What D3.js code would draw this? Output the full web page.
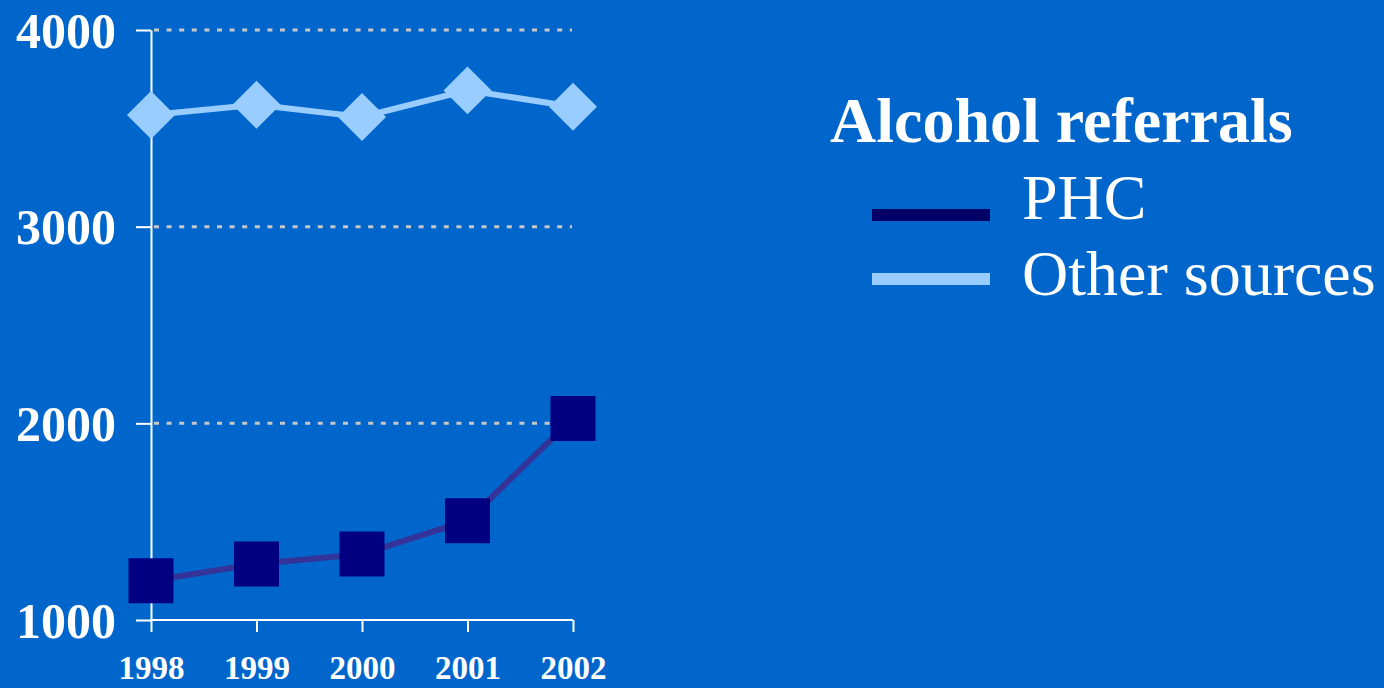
<!DOCTYPE html>
<html lang="en">
<head>
<meta charset="UTF-8">
<title>Alcohol referrals</title>
<script src="https://d3js.org/d3.v7.min.js"></script>
<style>
  body { margin: 0; background: #0066cc; }
  svg { display: block; }
  .axis path, .axis line { stroke: #ffffff; stroke-width: 2; fill: none; }
  .axis text { fill: #ffffff; font-family: "Liberation Serif", serif; font-weight: bold; }
  .grid line { stroke: #c8c8c8; stroke-width: 3; stroke-dasharray: 5 7.6; }
</style>
</head>
<body>
<script>
// data
var years = ["1998", "1999", "2000", "2001", "2002"];
var phc = [1200, 1285, 1335, 1505, 2025];
var otherSources = [3568, 3620, 3558, 3693, 3610];
var yTicks = [1000, 2000, 3000, 4000];
var seriesNames = ["PHC", "Other sources"];
var legendTitle = "Alcohol referrals";

var width = 1384, height = 688;

var svg = d3.select("body").append("svg")
  .attr("width", width)
  .attr("height", height);

svg.append("rect").attr("width", width).attr("height", height).attr("fill", "#0066cc");

var x = d3.scalePoint().domain(years).range([151, 573]);
var y = d3.scaleLinear().domain([1000, 4000]).range([620, 30]);

// dotted gridlines
svg.append("g").attr("class", "grid")
  .selectAll("line")
  .data(yTicks.filter(function(d){ return d > 1000; }))
  .enter().append("line")
  .attr("x1", 154).attr("x2", 572)
  .attr("y1", function(d){ return y(d); })
  .attr("y2", function(d){ return y(d); });

// axes
var yAxis = d3.axisLeft(y).tickValues(yTicks).tickFormat(d3.format("d"))
  .tickSize(15).tickSizeOuter(0).tickPadding(20);
var gy = svg.append("g").attr("class", "axis").attr("transform", "translate(151,0)").call(yAxis);
gy.selectAll("text").style("font-size", "50px").attr("dy", "0.34em");

var xAxis = d3.axisBottom(x).tickSize(12).tickSizeOuter(0).tickPadding(24);
var gx = svg.append("g").attr("class", "axis").attr("transform", "translate(0,620)").call(xAxis);
gx.select(".domain").attr("d", "M151,0H573");
gx.selectAll("text").style("font-size", "33px").attr("dy", "0.71em");

// lines
var line = d3.line()
  .x(function(d, i){ return x(years[i]); })
  .y(function(d){ return y(d); });

svg.append("path").datum(otherSources)
  .attr("d", line).attr("fill", "none")
  .attr("stroke", "#99ccff").attr("stroke-width", 6);

svg.append("path").datum(phc)
  .attr("d", line).attr("fill", "none")
  .attr("stroke", "#333399").attr("stroke-width", 6);

// markers
var diamond = d3.symbol().type(d3.symbolSquare).size(1150);
svg.selectAll(".diamond").data(otherSources).enter().append("path")
  .attr("class", "diamond")
  .attr("d", diamond)
  .attr("fill", "#99ccff")
  .attr("transform", function(d, i){ return "translate(" + x(years[i]) + "," + y(d) + ") rotate(45)"; });

var square = d3.symbol().type(d3.symbolSquare).size(2025);
svg.selectAll(".square").data(phc).enter().append("path")
  .attr("class", "square")
  .attr("d", square)
  .attr("fill", "#000080")
  .attr("transform", function(d, i){ return "translate(" + x(years[i]) + "," + y(d) + ")"; });

// legend
var legend = svg.append("g").attr("font-family", "Liberation Serif, serif").attr("fill", "#ffffff");
legend.append("text").attr("x", 830).attr("y", 142)
  .attr("font-size", 64).attr("font-weight", "bold").text(legendTitle);

var legendColors = ["#000066", "#99ccff"];
var legendY = [215, 279];
var labelY = [219, 295];
seriesNames.forEach(function(name, i){
  legend.append("rect").attr("x", 872).attr("y", legendY[i] - 6)
    .attr("width", 118).attr("height", 12).attr("fill", legendColors[i]);
  legend.append("text").attr("x", 1022).attr("y", labelY[i])
    .attr("font-size", 64).text(name);
});
</script>
</body>
</html>
